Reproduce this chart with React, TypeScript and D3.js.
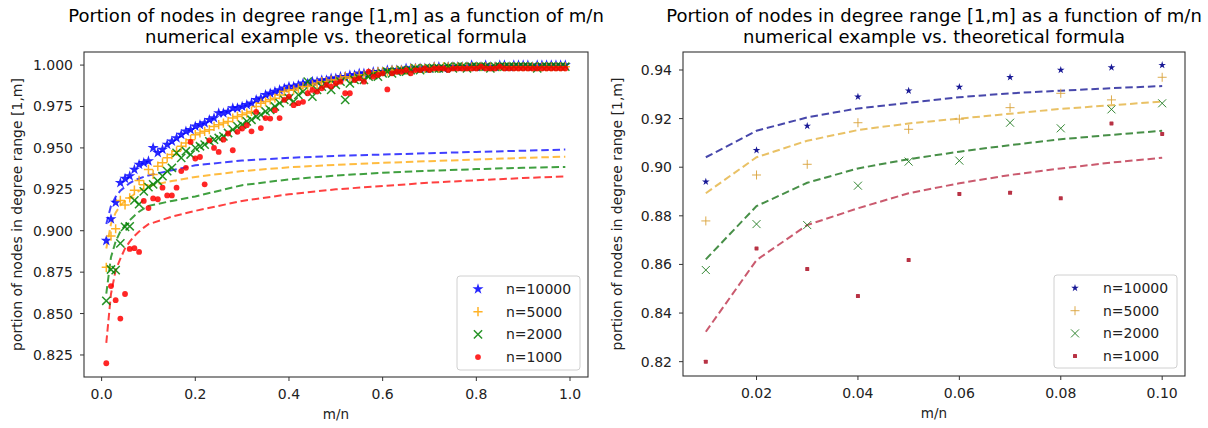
import React from "react";
import * as d3 from "d3";

const seriesNames = ["n=10000", "n=5000", "n=2000", "n=1000"];
const mOverN = d3.range(1, 100).map((i) => i / 100);

const numN10000 = [
  0.894, 0.907, 0.917, 0.929, 0.9315, 0.933, 0.937, 0.94, 0.941, 0.942,
  0.95, 0.947, 0.949, 0.952, 0.954, 0.956, 0.958, 0.96, 0.961, 0.963,
  0.964, 0.965, 0.967, 0.968, 0.971, 0.971, 0.972, 0.974, 0.974, 0.975,
  0.976, 0.977, 0.979, 0.98, 0.982, 0.983, 0.984, 0.985, 0.986, 0.987,
  0.987, 0.988, 0.989, 0.989, 0.99, 0.99, 0.991, 0.991, 0.992, 0.992,
  0.993, 0.993, 0.994, 0.994, 0.995, 0.995, 0.995, 0.996, 0.996, 0.996,
  0.997, 0.997, 0.997, 0.997, 0.998, 0.998, 0.998, 0.998, 0.998, 0.998,
  0.999, 0.999, 0.998, 0.999, 0.999, 0.999, 0.999, 0.999, 1.0, 0.999,
  0.999, 1.0, 0.999, 0.999, 1.0, 1.0, 0.999, 1.0, 1.0, 1.0,
  1.0, 0.999, 1.0, 1.0, 1.0, 1.0, 1.0, 1.0, 1.0,
];
const numN5000 = [
  0.8779, 0.8968, 0.9012, 0.9183, 0.9156, 0.9198, 0.9245, 0.9304, 0.9277, 0.937,
  0.934, 0.939, 0.941, 0.944, 0.946, 0.948, 0.951, 0.953, 0.955, 0.958,
  0.959, 0.96, 0.961, 0.963, 0.964, 0.965, 0.966, 0.968, 0.969, 0.97,
  0.971, 0.972, 0.975, 0.977, 0.978, 0.979, 0.98, 0.982, 0.984, 0.985,
  0.985, 0.986, 0.987, 0.987, 0.988, 0.989, 0.99, 0.99, 0.991, 0.991,
  0.992, 0.993, 0.992, 0.993, 0.994, 0.994, 0.995, 0.995, 0.996, 0.996,
  0.996, 0.997, 0.997, 0.997, 0.997, 0.998, 0.998, 0.998, 0.998, 0.998,
  0.999, 0.998, 0.999, 0.999, 0.999, 0.999, 0.999, 0.999, 0.999, 0.999,
  0.999, 0.999, 0.999, 0.999, 0.999, 0.999, 0.999, 0.999, 0.999, 0.999,
  0.999, 0.999, 0.999, 0.999, 0.999, 0.999, 0.999, 0.999, 0.999,
];
const numN2000 = [
  0.8577, 0.8766, 0.8762, 0.8924, 0.9023, 0.9027, 0.9183, 0.916, 0.9238, 0.9263,
  0.928, 0.93, 0.933, 0.936, 0.938, 0.947, 0.944, 0.948, 0.946, 0.95,
  0.951, 0.952, 0.954, 0.955, 0.956, 0.957, 0.959, 0.961, 0.963, 0.964,
  0.966, 0.967, 0.969, 0.97, 0.972, 0.973, 0.975, 0.977, 0.979, 0.98,
  0.978, 0.982, 0.984, 0.99, 0.981, 0.985, 0.987, 0.988, 0.985, 0.988,
  0.99, 0.979, 0.989, 0.991, 0.992, 0.991, 0.993, 0.994, 0.993, 0.995,
  0.996, 0.995, 0.996, 0.997, 0.996, 0.997, 0.998, 0.997, 0.998, 0.998,
  0.998, 0.998, 0.998, 0.999, 0.998, 0.999, 0.999, 0.998, 0.999, 0.999,
  0.999, 0.999, 0.998, 0.999, 0.999, 0.999, 0.999, 0.999, 0.999, 0.999,
  0.999, 0.999, 0.998, 0.999, 0.999, 0.999, 0.999, 0.999, 0.999,
];
const numN1000 = [
  0.82, 0.8666, 0.8581, 0.847, 0.8618, 0.889, 0.8895, 0.8872, 0.918, 0.9137,
  0.9195, 0.919, 0.926, 0.9213, 0.9213, 0.926, 0.936, 0.938, 0.9536, 0.9436,
  0.9445, 0.928, 0.9546, 0.95, 0.9476, 0.955, 0.9587, 0.9486, 0.9597, 0.9617,
  0.9637, 0.96, 0.9718, 0.962, 0.968, 0.9677, 0.9728, 0.968, 0.979, 0.981,
  0.9758, 0.977, 0.9778, 0.983, 0.985, 0.984, 0.986, 0.988, 0.987, 0.989,
  0.99, 0.983, 0.983, 0.991, 0.992, 0.99, 0.996, 0.993, 0.994, 0.995,
  0.9853, 0.995, 0.996, 0.996, 0.997, 0.995, 0.997, 0.997, 0.998, 0.997,
  0.998, 0.998, 0.998, 0.997, 0.998, 0.998, 0.998, 0.998, 0.998, 0.998,
  0.999, 0.998, 0.998, 0.998, 0.999, 0.998, 0.998, 0.998, 0.998, 0.998,
  0.998, 0.998, 0.998, 0.998, 0.998, 0.998, 0.998, 0.998, 0.998,
];

const theoryX = [0.01, 0.02, 0.03, 0.04, 0.05, 0.06, 0.07, 0.08, 0.09, 0.1, 0.15, 0.2, 0.3, 0.4, 0.5, 0.6, 0.7, 0.8, 0.9, 0.99];
const thN10000 = [0.9041, 0.915, 0.9205, 0.9242, 0.9265, 0.9288, 0.9304, 0.9315, 0.9325, 0.9334, 0.9365, 0.9395, 0.9424, 0.944, 0.9452, 0.946, 0.9468, 0.9476, 0.9483, 0.949];
const thN5000 = [0.8893, 0.9041, 0.9109, 0.9153, 0.918, 0.92, 0.922, 0.924, 0.9255, 0.927, 0.93, 0.9325, 0.936, 0.9383, 0.9398, 0.941, 0.942, 0.943, 0.944, 0.9447];
const thN2000 = [0.8621, 0.884, 0.8936, 0.8995, 0.9033, 0.9064, 0.9091, 0.9115, 0.9133, 0.915, 0.918, 0.9207, 0.9275, 0.931, 0.9333, 0.935, 0.9362, 0.9372, 0.938, 0.9385];
const thN1000 = [0.8323, 0.8618, 0.8762, 0.8831, 0.8893, 0.8934, 0.8968, 0.8995, 0.9019, 0.9039, 0.9085, 0.912, 0.918, 0.922, 0.925, 0.927, 0.929, 0.9305, 0.9318, 0.9328];

const leftXTicks = [0, 0.2, 0.4, 0.6, 0.8, 1.0];
const leftYTicks = [0.825, 0.85, 0.875, 0.9, 0.925, 0.95, 0.975, 1.0];
const rightXTicks = [0.02, 0.04, 0.06, 0.08, 0.1];
const rightYTicks = [0.82, 0.84, 0.86, 0.88, 0.9, 0.92, 0.94];

const titleLine1 = "Portion of nodes in degree range [1,m] as a function of m/n";
const titleLine2 = "numerical example vs. theoretical formula";
const yLabel = "portion of nodes in degree range [1,m]";
const xLabel = "m/n";

const numericSeries = [numN10000, numN5000, numN2000, numN1000];
const theorySeries = [thN10000, thN5000, thN2000, thN1000];
const markerKinds = ["star", "plus", "x", "dot"];

const FONT = "DejaVu Sans, sans-serif";
const AX = "#333333";

type Style = {
  lineColors: string[];
  lineOpacity: number;
  markerColors: string[];
  markerOpacity: number;
  starSize: number;
  plusHalf: number;
  xHalf: number;
  dotR: number;
  markStroke: number;
  squareDots: boolean;
};

function Marker({ kind, x, y, color, st, opacity }: any) {
  if (kind === "star") {
    const p = d3.symbol(d3.symbolStar, st.starSize)() as string;
    return <path d={p} transform={`translate(${x},${y})`} fill={color} opacity={opacity} />;
  }
  if (kind === "plus") {
    const s = st.plusHalf;
    return (
      <path d={`M${x - s},${y}H${x + s}M${x},${y - s}V${y + s}`} stroke={color} strokeWidth={st.markStroke} fill="none" opacity={opacity} />
    );
  }
  if (kind === "x") {
    const s = st.xHalf;
    return (
      <path d={`M${x - s},${y - s}L${x + s},${y + s}M${x - s},${y + s}L${x + s},${y - s}`} stroke={color} strokeWidth={st.markStroke} fill="none" opacity={opacity} />
    );
  }
  if (st.squareDots) {
    const r = st.dotR;
    return <rect x={x - r} y={y - r} width={2 * r} height={2 * r} rx={0.6} fill={color} opacity={opacity} />;
  }
  return <circle cx={x} cy={y} r={st.dotR} fill={color} opacity={opacity} />;
}

function Panel(props: any) {
  const { left, right, top, bottom, xDomain, yDomain, xTicks, yTicks, xFmt, yFmt, nPoints, nTheory, st, legend, yLabelX } = props;
  const x = d3.scaleLinear().domain(xDomain).range([left, right]);
  const y = d3.scaleLinear().domain(yDomain).range([bottom, top]);
  const xs = mOverN.slice(0, nPoints);
  const txs = theoryX.slice(0, nTheory);
  const line = d3
    .line<[number, number]>()
    .x((d) => x(d[0]))
    .y((d) => y(d[1]));
  const cx = (left + right) / 2;
  const clipId = `clip${left}`;
  return (
    <g fontFamily={FONT}>
      <text x={cx} y={22} textAnchor="middle" fontSize={18} fill="#000">{titleLine1}</text>
      <text x={cx} y={43} textAnchor="middle" fontSize={18} fill="#000">{titleLine2}</text>
      <defs>
        <clipPath id={clipId}>
          <rect x={left} y={top} width={right - left} height={bottom - top} />
        </clipPath>
      </defs>
      <g clipPath={`url(#${clipId})`}>
        {theorySeries.map((ts, i) => (
          <path
            key={"t" + i}
            d={line(txs.map((v, j) => [v, ts[j]]) as [number, number][]) as string}
            fill="none"
            stroke={st.lineColors[i]}
            strokeOpacity={st.lineOpacity}
            strokeWidth={2}
            strokeDasharray="7.5,3.8"
          />
        ))}
        {numericSeries.map((ns, i) =>
          xs.map((v, j) => (
            <Marker key={`m${i}-${j}`} kind={markerKinds[i]} x={x(v)} y={y(ns[j])} color={st.markerColors[i]} st={st} opacity={st.markerOpacity} />
          ))
        )}
      </g>
      <rect x={left} y={top} width={right - left} height={bottom - top} fill="none" stroke={AX} strokeWidth={1.1} />
      {xTicks.map((t: number) => (
        <g key={"xt" + t}>
          <line x1={x(t)} x2={x(t)} y1={bottom} y2={bottom + 4} stroke={AX} strokeWidth={1} />
          <text x={x(t)} y={bottom + 22} textAnchor="middle" fontSize={14} fill="#222">{xFmt(t)}</text>
        </g>
      ))}
      {yTicks.map((t: number) => (
        <g key={"yt" + t}>
          <line x1={left - 4} x2={left} y1={y(t)} y2={y(t)} stroke={AX} strokeWidth={1} />
          <text x={left - 11} y={y(t) + 5} textAnchor="end" fontSize={14} fill="#222">{yFmt(t)}</text>
        </g>
      ))}
      <text x={cx} y={bottom + 42} textAnchor="middle" fontSize={13.5} fill="#222">{xLabel}</text>
      <text
        transform={`translate(${yLabelX},${(top + bottom) / 2}) rotate(-90)`}
        textAnchor="middle"
        fontSize={14}
        fill="#222"
      >
        {yLabel}
      </text>
      <g>
        <rect x={legend.x} y={legend.y} width={legend.w} height={legend.h} rx={3} fill="#fff" fillOpacity={0.85} stroke="#d0d0d0" strokeWidth={1} />
        {seriesNames.map((name, i) => {
          const ry = legend.y + 13 + i * 22.7;
          return (
            <g key={"lg" + i}>
              <Marker kind={markerKinds[i]} x={legend.x + 21} y={ry} color={st.markerColors[i]} st={st} opacity={st.markerOpacity} />
              <text x={legend.x + 49} y={ry + 5} fontSize={14} fill="#222">{name}</text>
            </g>
          );
        })}
      </g>
    </g>
  );
}

const leftStyle: Style = {
  lineColors: ["#0000ff", "#ffa500", "#008000", "#ff0000"],
  lineOpacity: 0.75,
  markerColors: ["#0000ff", "#ffa500", "#008000", "#ff0000"],
  markerOpacity: 0.85,
  starSize: 38,
  plusHalf: 4.6,
  xHalf: 4.1,
  dotR: 2.9,
  markStroke: 1.5,
  squareDots: false,
};

const rightStyle: Style = {
  lineColors: ["#00008b", "#e0a92a", "#006400", "#b51a36"],
  lineOpacity: 0.72,
  markerColors: ["#00008b", "#d9a23a", "#1f7a1f", "#b01c30"],
  markerOpacity: 0.9,
  starSize: 18,
  plusHalf: 4.5,
  xHalf: 4,
  dotR: 2,
  markStroke: 1,
  squareDots: true,
};

export default function App() {
  return (
    <svg width={1208} height={428} style={{ display: "block", position: "absolute", left: 0, top: 0, background: "#fff" }}>
      <rect x={0} y={0} width={1208} height={428} fill="#fff" />
      <Panel
        left={84}
        right={588}
        top={52}
        bottom={377}
        xDomain={[-0.0376, 1.0384]}
        yDomain={[0.8117, 1.0079]}
        xTicks={leftXTicks}
        yTicks={leftYTicks}
        xFmt={(t: number) => d3.format(".1f")(t)}
        yFmt={(t: number) => d3.format(".3f")(t)}
        nPoints={99}
        nTheory={20}
        st={leftStyle}
        legend={{ x: 457, y: 276, w: 123, h: 94 }}
        yLabelX={22}
      />
      <Panel
        left={683}
        right={1185}
        top={52}
        bottom={376}
        xDomain={[0.0055, 0.1045]}
        yDomain={[0.8141, 0.9474]}
        xTicks={rightXTicks}
        yTicks={rightYTicks}
        xFmt={(t: number) => d3.format(".2f")(t)}
        yFmt={(t: number) => d3.format(".2f")(t)}
        nPoints={10}
        nTheory={10}
        st={rightStyle}
        legend={{ x: 1054, y: 275, w: 123, h: 93 }}
        yLabelX={622}
      />
    </svg>
  );
}
